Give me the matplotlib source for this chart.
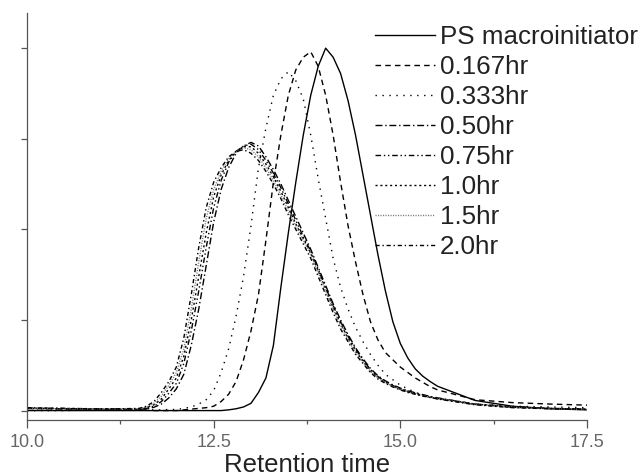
import matplotlib.pyplot as plt
from matplotlib.ticker import FixedLocator, NullFormatter

plt.rcParams['font.family'] = ['Liberation Sans', 'DejaVu Sans']

# retention time grid (min)
t = [10.0, 10.5, 11.0, 11.5, 11.6, 11.7, 11.8, 11.9, 12.0, 12.1,
     12.2, 12.3, 12.4, 12.5, 12.6, 12.7, 12.8, 12.9, 13.0, 13.1,
     13.2, 13.3, 13.4, 13.5, 13.6, 13.7, 13.8, 13.9, 14.0, 14.1,
     14.2, 14.3, 14.4, 14.5, 14.6, 14.7, 14.8, 14.9, 15.0, 15.1,
     15.2, 15.3, 15.4, 15.5, 16.0, 16.5, 17.0, 17.5]

# normalised detector response for each sample
ps_macro = [0.0, 0.0, 0.0, 0.0, 0.0, 0.0, 0.0, 0.0, 0.0, 0.0,
            0.0, 0.0, 0.0, 0.0, 0.0, 0.002, 0.005, 0.01, 0.02, 0.05,
            0.09, 0.18, 0.34, 0.49, 0.63, 0.76, 0.87, 0.95, 1.0, 0.975,
            0.93, 0.855, 0.76, 0.65, 0.54, 0.43, 0.33, 0.245, 0.185, 0.145,
            0.115, 0.095, 0.08, 0.067, 0.028, 0.012, 0.005, 0.002]
hr_0167 = [0.006, 0.004, 0.003, 0.002, 0.001, 0.0, 0.0, 0.0, 0.0, 0.002,
           0.004, 0.006, 0.008, 0.012, 0.025, 0.045, 0.08, 0.14, 0.22, 0.32,
           0.47, 0.63, 0.76, 0.87, 0.94, 0.975, 0.99, 0.95, 0.87, 0.76,
           0.63, 0.51, 0.41, 0.32, 0.245, 0.195, 0.16, 0.14, 0.12, 0.105,
           0.09, 0.078, 0.066, 0.057, 0.03, 0.022, 0.018, 0.015]
hr_0333 = [0.0, 0.0, 0.002, 0.002, 0.002, 0.002, 0.002, 0.003, 0.003, 0.006,
           0.01, 0.018, 0.03, 0.055, 0.105, 0.17, 0.26, 0.37, 0.51, 0.67,
           0.78, 0.87, 0.915, 0.935, 0.91, 0.86, 0.76, 0.64, 0.53, 0.42,
           0.34, 0.28, 0.23, 0.19, 0.155, 0.125, 0.10, 0.085, 0.07, 0.06,
           0.05, 0.043, 0.037, 0.032, 0.018, 0.012, 0.01, 0.008]
hr_050 = [0.006, 0.005, 0.004, 0.003, 0.005, 0.009, 0.018, 0.035, 0.06, 0.1,
          0.18, 0.28, 0.4, 0.52, 0.61, 0.67, 0.71, 0.73, 0.74, 0.73,
          0.70, 0.665, 0.625, 0.58, 0.535, 0.49, 0.445, 0.395, 0.345, 0.295,
          0.25, 0.21, 0.173, 0.143, 0.116, 0.096, 0.082, 0.071, 0.062, 0.055,
          0.049, 0.044, 0.039, 0.035, 0.018, 0.01, 0.006, 0.004]
hr_075 = [0.007, 0.006, 0.005, 0.004, 0.006, 0.012, 0.025, 0.048, 0.075, 0.13,
          0.22, 0.33, 0.45, 0.56, 0.635, 0.685, 0.715, 0.73, 0.735, 0.72,
          0.69, 0.655, 0.615, 0.57, 0.525, 0.48, 0.44, 0.39, 0.34, 0.29,
          0.245, 0.205, 0.17, 0.14, 0.113, 0.094, 0.08, 0.069, 0.06, 0.053,
          0.047, 0.042, 0.038, 0.034, 0.018, 0.01, 0.006, 0.004]
hr_10 = [0.006, 0.005, 0.004, 0.004, 0.008, 0.016, 0.032, 0.06, 0.09, 0.15,
         0.25, 0.37, 0.49, 0.59, 0.65, 0.69, 0.715, 0.728, 0.728, 0.71,
         0.68, 0.645, 0.605, 0.56, 0.515, 0.475, 0.435, 0.385, 0.335, 0.285,
         0.24, 0.2, 0.165, 0.137, 0.11, 0.092, 0.078, 0.068, 0.059, 0.052,
         0.046, 0.041, 0.037, 0.033, 0.017, 0.009, 0.006, 0.004]
hr_15 = [0.005, 0.005, 0.004, 0.005, 0.01, 0.02, 0.04, 0.07, 0.105, 0.17,
         0.28, 0.41, 0.53, 0.61, 0.66, 0.695, 0.715, 0.725, 0.72, 0.70,
         0.67, 0.635, 0.595, 0.55, 0.51, 0.47, 0.43, 0.38, 0.33, 0.28,
         0.235, 0.195, 0.16, 0.133, 0.108, 0.09, 0.077, 0.067, 0.058, 0.051,
         0.046, 0.041, 0.037, 0.033, 0.017, 0.009, 0.005, 0.003]
hr_20 = [0.008, 0.006, 0.004, 0.006, 0.012, 0.025, 0.05, 0.08, 0.12, 0.2,
         0.32, 0.45, 0.56, 0.63, 0.67, 0.70, 0.715, 0.72, 0.71, 0.69,
         0.66, 0.625, 0.585, 0.54, 0.50, 0.46, 0.42, 0.37, 0.32, 0.27,
         0.225, 0.19, 0.155, 0.13, 0.105, 0.087, 0.075, 0.065, 0.057, 0.05,
         0.045, 0.04, 0.036, 0.032, 0.016, 0.008, 0.005, 0.003]

labels = ['PS macroinitiator', '0.167hr', '0.333hr', '0.50hr',
          '0.75hr', '1.0hr', '1.5hr', '2.0hr']
xticks = [10.0, 12.5, 15.0, 17.5]
xticks_minor = [11.25, 13.75, 16.25]
yticks = [0, 0.25, 0.5, 0.75, 1.0]

series = [ps_macro, hr_0167, hr_0333, hr_050, hr_075, hr_10, hr_15, hr_20]
styles = [
    ('-', 'black'),
    ((0, (4, 3)), 'black'),
    ((0, (1, 4)), 'black'),
    ((0, (5, 2, 1, 2)), 'black'),
    ((0, (4, 2, 1, 2, 1, 2)), 'black'),
    ((0, (1.5, 2)), 'black'),
    ((0, (0.8, 1)), '#777777'),
    ((0, (3, 2, 1, 2)), 'black'),
]

fig = plt.figure(figsize=(6.4, 4.76), dpi=100)
ax = fig.add_axes([27 / 640, 56 / 476, 560 / 640, 407 / 476])

for y, lab, (ls, col) in zip(series, labels, styles):
    ax.plot(t, y, linestyle=ls, color=col, lw=1.0, label=lab)

ax.set_xlim(10, 17.5)
ax.set_ylim(-0.026, 1.097)

ax.xaxis.set_major_locator(FixedLocator(xticks))
ax.xaxis.set_minor_locator(FixedLocator(xticks_minor))
ax.set_xticklabels(['%.1f' % v for v in xticks])
ax.yaxis.set_major_locator(FixedLocator(yticks))
ax.yaxis.set_major_formatter(NullFormatter())

for side in ['top', 'right']:
    ax.spines[side].set_visible(False)
for side in ['left', 'bottom']:
    ax.spines[side].set_color('#555555')
    ax.spines[side].set_linewidth(0.9)

ax.tick_params(axis='x', which='major', direction='out', length=5.8, width=0.9,
               color='#555555', labelsize=13, labelcolor='#666666', pad=4)
ax.tick_params(axis='x', which='minor', direction='out', length=3, width=0.9,
               color='#555555')
ax.tick_params(axis='y', which='major', direction='out', length=4.3, width=0.9,
               color='#555555')

ax.set_xlabel('Retention time', fontsize=18.5, color='#222222', labelpad=2)

leg = fig.legend(loc='upper left', bbox_to_anchor=(375 / 640, 1 - 25 / 476),
                 frameon=False, fontsize=18.7, handlelength=2.3,
                 handletextpad=0.2, labelspacing=0.23, borderpad=0,
                 borderaxespad=0)
for txt in leg.get_texts():
    txt.set_color('#222222')

plt.savefig('out.png', dpi=100)
